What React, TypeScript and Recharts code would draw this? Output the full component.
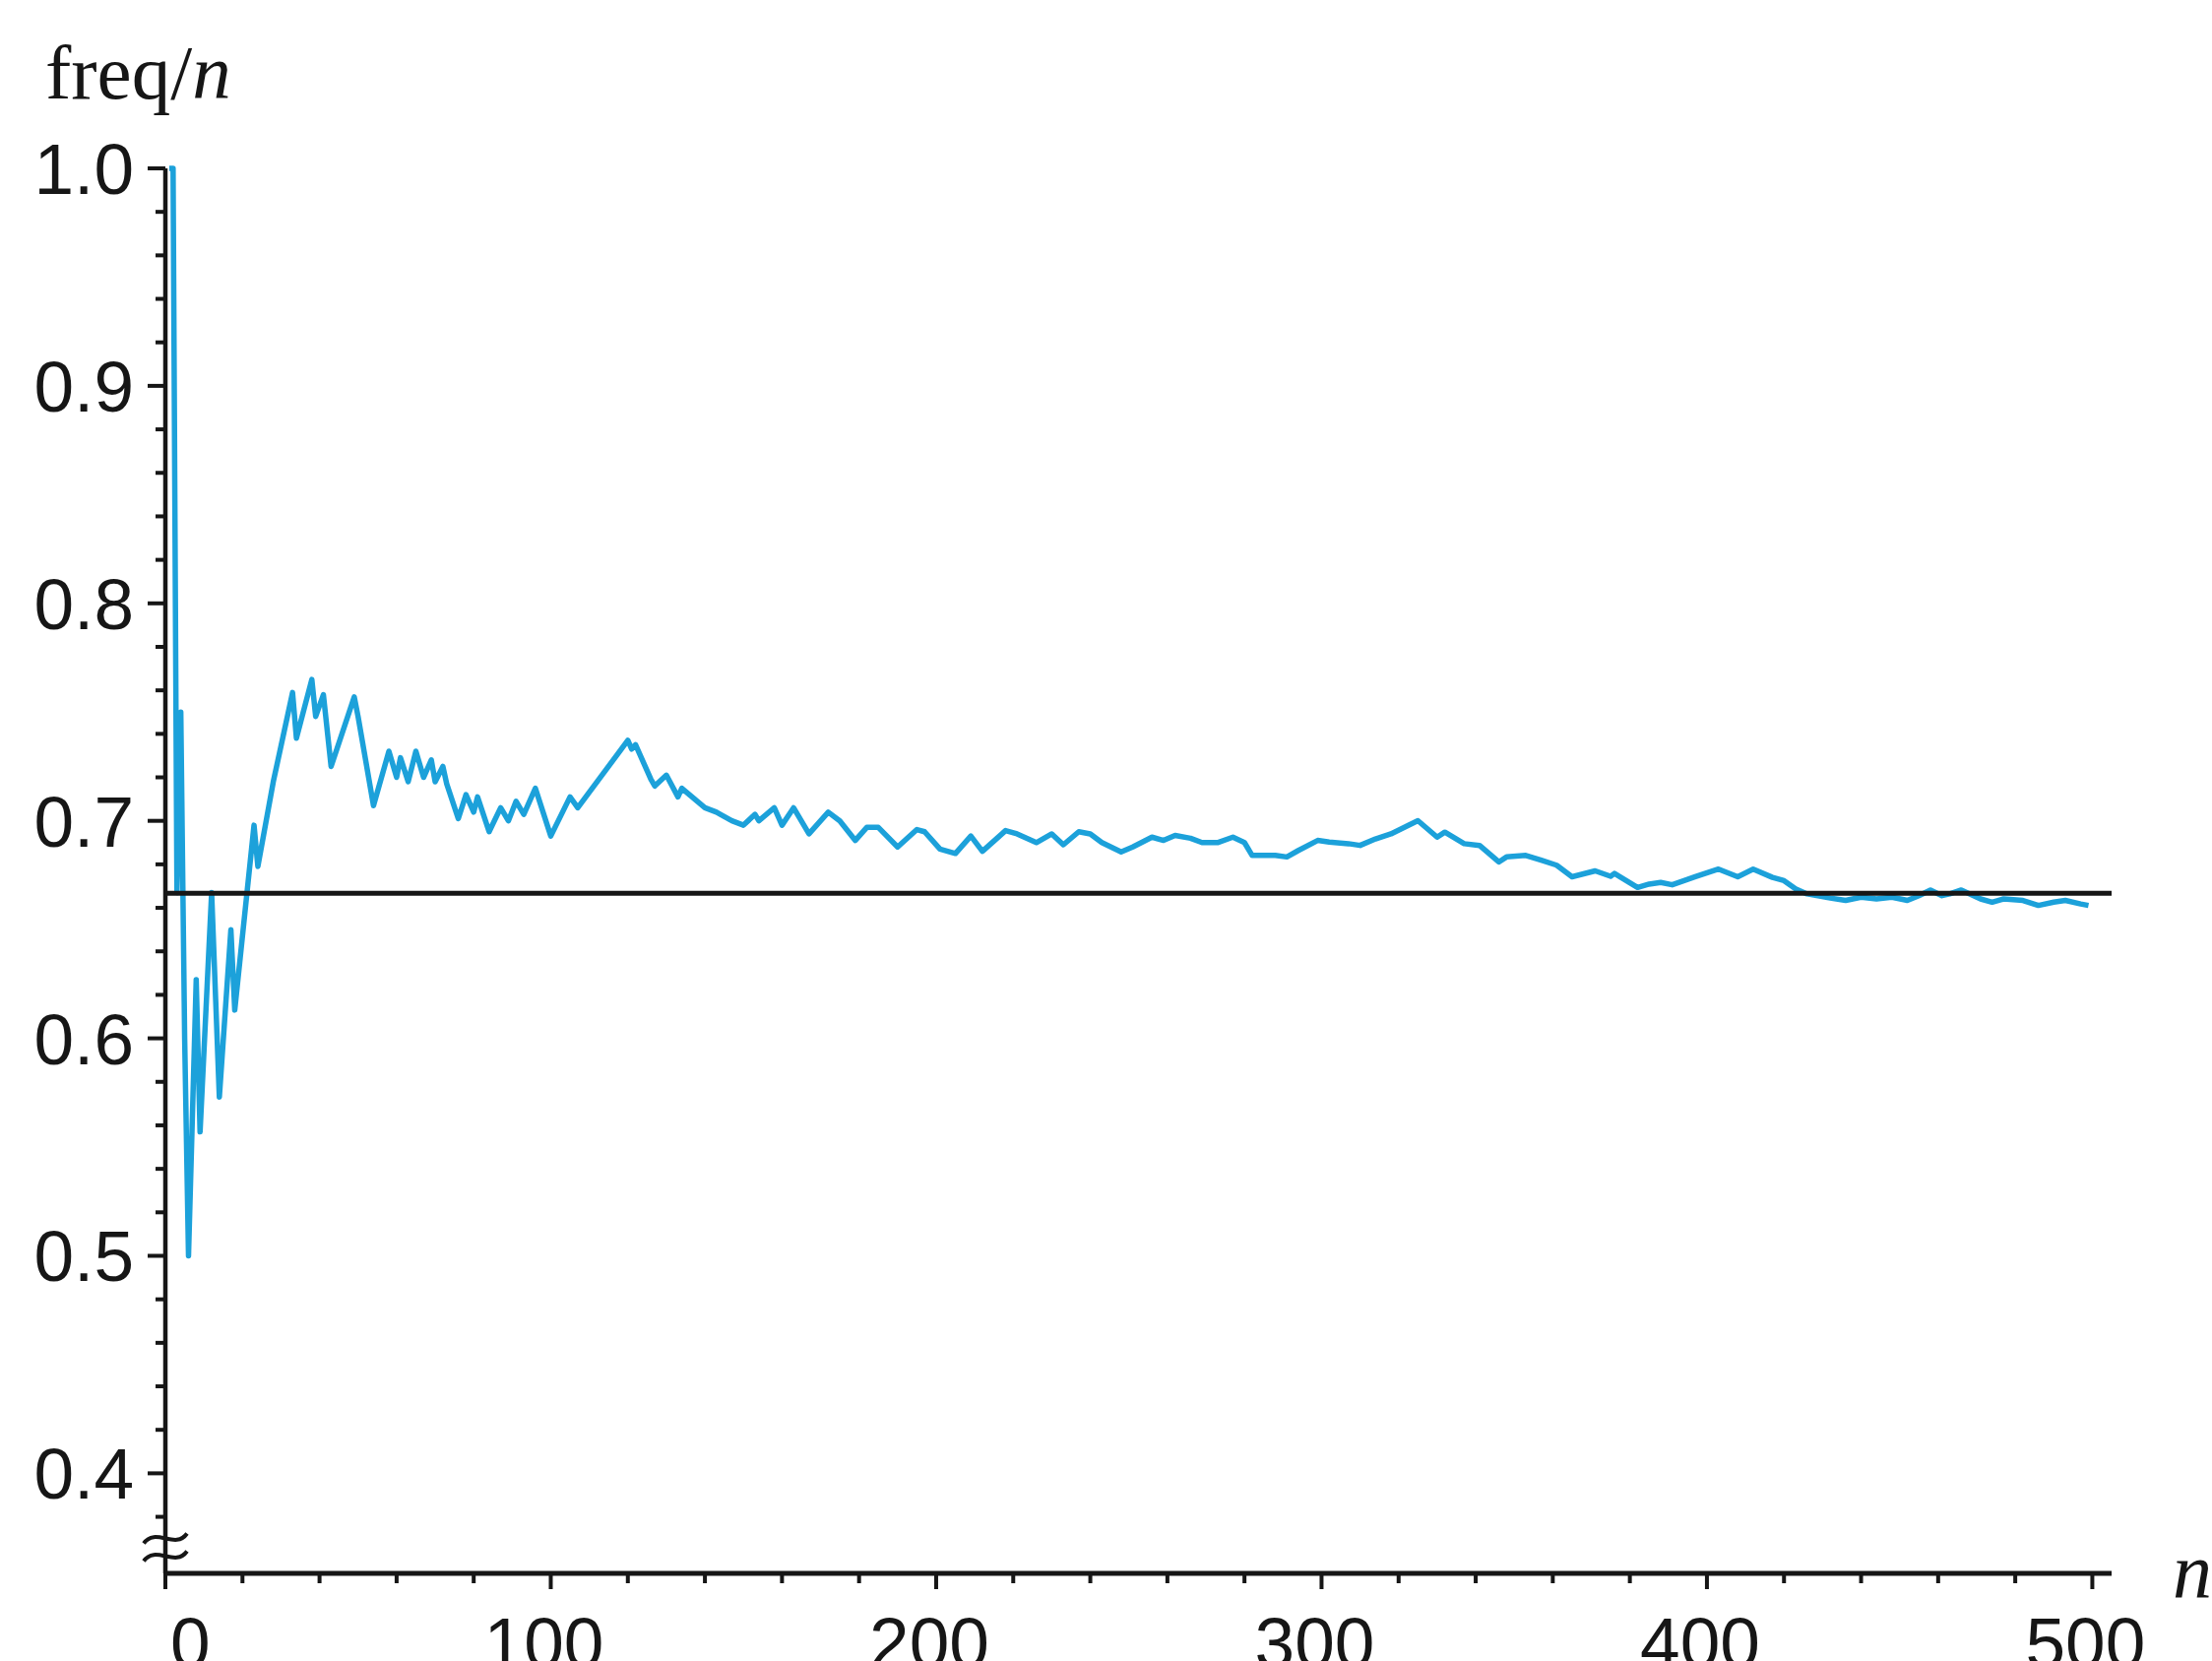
import { LineChart, Line, XAxis, YAxis, ReferenceLine, ReferenceDot } from 'recharts';

// trials n and the running relative frequency (turning points)
const trialCounts = [
  1, 2, 3, 4, 5, 6, 8, 9, 12, 14, 17, 18, 23, 24, 28, 33, 34, 38, 39, 41,
  43, 49, 50, 54, 58, 60, 61, 63, 65, 67, 69, 70, 72, 73, 76, 78, 80, 81, 84, 87,
  89, 91, 93, 96, 100, 105, 107, 120, 121, 122, 126, 127, 130, 133, 134, 140, 143, 144, 147, 150,
  153, 154, 158, 160, 163, 167, 172, 175, 179, 182, 185, 190, 195, 197, 201, 205, 209, 212, 218, 221,
  226, 230, 233, 237, 240, 243, 248, 251, 256, 259, 262, 266, 269, 273, 277, 280, 282, 288, 291, 294,
  299, 302, 307, 310, 314, 318, 325, 330, 332, 337, 341, 346, 348, 353, 357, 361, 365, 371, 375, 376,
  382, 385, 388, 391, 397, 403, 408, 412, 417, 420, 423, 426, 432, 436, 440, 444, 448, 452, 455, 458,
  461, 463, 466, 471, 474, 477, 482, 486, 490, 493, 497, 499,
];
const freqRatios = [
  1.0, 1.0, 0.667, 0.75, 0.6, 0.5, 0.627, 0.557, 0.667, 0.573, 0.65, 0.613, 0.698, 0.679, 0.718, 0.759, 0.738, 0.765, 0.748, 0.758,
  0.725, 0.757, 0.748, 0.707, 0.732, 0.72, 0.729, 0.718, 0.732, 0.72, 0.728, 0.718, 0.725, 0.717, 0.701, 0.712, 0.704, 0.711, 0.695, 0.706,
  0.7, 0.709, 0.703, 0.715, 0.693, 0.711, 0.706, 0.737, 0.733, 0.735, 0.719, 0.716, 0.721, 0.711, 0.715, 0.706, 0.704, 0.703, 0.7, 0.698,
  0.703, 0.7, 0.706, 0.698, 0.706, 0.694, 0.704, 0.7, 0.691, 0.697, 0.697, 0.688, 0.696, 0.695, 0.687, 0.685, 0.693, 0.686, 0.6955, 0.694,
  0.69, 0.694, 0.689, 0.695, 0.694, 0.69, 0.6857, 0.688, 0.6925, 0.691, 0.6933, 0.692, 0.69, 0.69, 0.6925, 0.69, 0.6841, 0.6841, 0.6834, 0.6864,
  0.691, 0.6902, 0.6895, 0.6887, 0.6917, 0.694, 0.7001, 0.6925, 0.6948, 0.6895, 0.6887, 0.6811, 0.6834, 0.6841, 0.6819, 0.6796, 0.6743, 0.677, 0.6745, 0.6758,
  0.6694, 0.6709, 0.6717, 0.6706, 0.6743, 0.6778, 0.6743, 0.6778, 0.674, 0.6725, 0.6687, 0.6664, 0.6645, 0.6634, 0.6649, 0.6641, 0.6649, 0.6634, 0.6656, 0.6682,
  0.6656, 0.6664, 0.6682, 0.6641, 0.6626, 0.6641, 0.6634, 0.6611, 0.6626, 0.6634, 0.6618, 0.6611,
];

const xTicks = [0, 20, 40, 60, 80, 100, 120, 140, 160, 180, 200, 220, 240, 260, 280, 300, 320, 340, 360, 380, 400, 420, 440, 460, 480, 500];
const xLabels = [0, 100, 200, 300, 400, 500];
const yTicks = [
  0.38, 0.4, 0.42, 0.44, 0.46, 0.48, 0.5, 0.52, 0.54, 0.56, 0.58, 0.6, 0.62, 0.64, 0.66, 0.68,
  0.7, 0.72, 0.74, 0.76, 0.78, 0.8, 0.82, 0.84, 0.86, 0.88, 0.9, 0.92, 0.94, 0.96, 0.98, 1.0,
];
const yLabels = ['0.4', '0.5', '0.6', '0.7', '0.8', '0.9', '1.0'];
const expectedRatio = 2 / 3;
const axisBreakAt = 0.366;

const chartData = trialCounts.map((n, i) => ({ n, ratio: freqRatios[i] }));

const W = 2247;
const H = 1687;
const INK = '#161616';
const BLUE = '#1ca1da';
const SANS = '"Liberation Sans", Arial, Helvetica, sans-serif';
const SERIF = '"Liberation Serif", "Times New Roman", serif';

const Y_TICK_SIZE = 18;
const Y_TICK_MARGIN = 14;
const X_TICK_SIZE = 16;
const X_TICK_MARGIN = 10;

function YTick(props: any) {
  const { x, y, payload } = props;
  const axisX = x + Y_TICK_SIZE + Y_TICK_MARGIN;
  const label = Number(payload.value).toFixed(1);
  const major = yLabels.includes(label) && Math.abs(payload.value - Number(label)) < 1e-6;
  return (
    <g>
      <line x1={axisX - (major ? 18 : 10)} x2={axisX} y1={y} y2={y} stroke={INK} strokeWidth={4} />
      {major && (
        <text x={axisX - 32} y={y + 26} textAnchor="end" fontFamily={SANS} fontSize={73} fill={INK}>
          {label}
        </text>
      )}
    </g>
  );
}

function XTick(props: any) {
  const { x, y, payload } = props;
  const axisY = y - X_TICK_SIZE - X_TICK_MARGIN;
  const major = xLabels.includes(payload.value);
  const first = payload.value === 0;
  return (
    <g>
      <line x1={x} x2={x} y1={axisY} y2={axisY + (major ? 16 : 10)} stroke={INK} strokeWidth={4} />
      {major && (
        <text
          x={first ? x + 5 : x - 7}
          y={axisY + 96}
          textAnchor={first ? 'start' : 'middle'}
          fontFamily={SANS}
          fontSize={73}
          fill={INK}
        >
          {payload.value}
        </text>
      )}
    </g>
  );
}

function AxisBreak(props: any) {
  const { cx, cy } = props;
  const wave = (yy: number) =>
    `M ${cx - 22} ${yy + 5} C ${cx - 10} ${yy - 12}, ${cx + 10} ${yy + 12}, ${cx + 22} ${yy - 5}`;
  return (
    <g>
      <path d={wave(cy - 9)} fill="none" stroke={INK} strokeWidth={4} />
      <path d={wave(cy + 9)} fill="none" stroke={INK} strokeWidth={4} />
    </g>
  );
}

export default function App() {
  return (
    <div style={{ position: 'absolute', left: 0, top: 0, width: W, height: H, background: '#fff' }}>
      <LineChart width={W} height={H} data={chartData} margin={{ top: 171, right: 102, left: 8, bottom: 9 }}>
        <XAxis
          type="number"
          dataKey="n"
          domain={[0, 505]}
          ticks={xTicks}
          interval={0}
          height={80}
          tickSize={X_TICK_SIZE}
          tickMargin={X_TICK_MARGIN}
          tickLine={false}
          axisLine={{ stroke: INK, strokeWidth: 5 }}
          tick={<XTick />}
        />
        <YAxis
          type="number"
          domain={[0.354, 1.0]}
          ticks={yTicks}
          interval={0}
          width={160}
          tickSize={Y_TICK_SIZE}
          tickMargin={Y_TICK_MARGIN}
          tickLine={false}
          axisLine={{ stroke: INK, strokeWidth: 4.5 }}
          tick={<YTick />}
        />
        <Line
          type="linear"
          dataKey="ratio"
          stroke={BLUE}
          strokeWidth={5.5}
          strokeLinejoin="round"
          dot={false}
          isAnimationActive={false}
        />
        <ReferenceLine y={expectedRatio} stroke={INK} strokeWidth={5} />
        <ReferenceDot x={0} y={axisBreakAt} r={0} shape={(p: any) => <AxisBreak cx={p.cx} cy={p.cy} />} />
      </LineChart>
      <svg width={W} height={H} style={{ position: 'absolute', left: 0, top: 0, pointerEvents: 'none' }}>
        <text x={46} y={100} fontFamily={SERIF} fontSize={79} fill={INK}>
          freq/<tspan fontStyle="italic">n</tspan>
        </text>
        <text x={2207} y={1622} fontFamily={SERIF} fontStyle="italic" fontSize={80} fill={INK}>
          n
        </text>
      </svg>
    </div>
  );
}
